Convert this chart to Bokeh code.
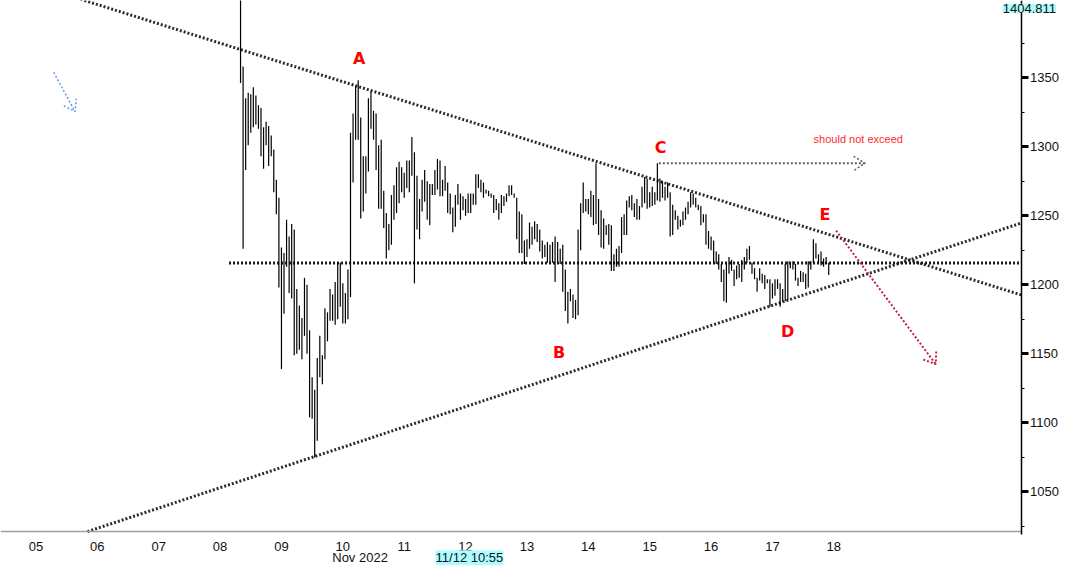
import numpy as np
from bokeh.plotting import figure
from bokeh.models import FixedTicker, LinearAxis, Range1d, Label
from bokeh.embed import file_html
from bokeh.resources import INLINE
from bokeh.core.properties import value

# ---- data (hourly bars, Nov 2022) ----
first_bar_day = 8 + 8 / 24.0   # Nov 08, 08:00

highs = [
    1410, 1358, 1335, 1339, 1338, 1343, 1337, 1330, 1328, 1314,
    1318, 1315, 1308, 1298, 1276, 1263, 1227, 1223, 1247, 1235,
    1244, 1240, 1197, 1185, 1176, 1205, 1200, 1167, 1133, 1124,
    1147, 1163, 1149, 1183, 1180, 1197, 1193, 1202, 1216, 1216,
    1201, 1194, 1211, 1310, 1324, 1344, 1348, 1321, 1293, 1293,
    1335, 1340, 1326, 1324, 1301, 1305, 1268, 1252, 1244, 1265,
    1272, 1285, 1289, 1285, 1281, 1290, 1290, 1307, 1296, 1279,
    1262, 1276, 1283, 1275, 1273, 1273, 1283, 1291, 1290, 1276,
    1286, 1274, 1266, 1256, 1265, 1273, 1266, 1264, 1262, 1266,
    1266, 1266, 1280, 1280, 1276, 1274, 1269, 1268, 1266, 1265,
    1262, 1259, 1265, 1264, 1266, 1272, 1272, 1266, 1263, 1253,
    1251, 1232, 1233, 1245, 1242, 1246, 1244, 1240, 1232, 1229,
    1231, 1229, 1231, 1235, 1231, 1226, 1229, 1211, 1195, 1197,
    1193, 1189, 1240, 1259, 1274, 1262, 1262, 1268, 1265, 1288,
    1262, 1254, 1248, 1243, 1244, 1243, 1222, 1226, 1228, 1249,
    1251, 1261, 1264, 1265, 1259, 1262, 1257, 1271, 1278, 1277,
    1267, 1271, 1267, 1288, 1277, 1275, 1271, 1274, 1267, 1258,
    1254, 1250, 1247, 1253, 1256, 1260, 1267, 1266, 1263, 1258,
    1257, 1251, 1251, 1239, 1235, 1232, 1224, 1222, 1215, 1211,
    1216, 1220, 1218, 1211, 1214, 1215, 1218, 1220, 1226, 1228,
    1216, 1212, 1205, 1212, 1208, 1207, 1204, 1204, 1201, 1204,
    1204, 1201, 1197, 1215, 1217, 1216, 1217, 1215, 1205, 1210,
    1209, 1208, 1217, 1217, 1233, 1230, 1222, 1224, 1219, 1220,
    1216,
]

lows = [
    1346, 1226, 1283, 1301, 1310, 1314, 1316, 1313, 1293, 1284,
    1301, 1286, 1293, 1267, 1251, 1198, 1139, 1179, 1213, 1194,
    1190, 1149, 1150, 1153, 1146, 1163, 1150, 1104, 1103, 1075,
    1087, 1133, 1128, 1146, 1159, 1174, 1174, 1171, 1175, 1184,
    1172, 1172, 1175, 1191, 1274, 1305, 1305, 1248, 1253, 1266,
    1282, 1313, 1305, 1283, 1255, 1255, 1241, 1219, 1225, 1229,
    1247, 1252, 1259, 1267, 1263, 1270, 1267, 1279, 1201, 1240,
    1233, 1253, 1260, 1247, 1243, 1265, 1265, 1269, 1264, 1264,
    1268, 1252, 1251, 1238, 1242, 1258, 1247, 1254, 1250, 1252,
    1252, 1258, 1258, 1270, 1267, 1263, 1266, 1264, 1263, 1252,
    1254, 1247, 1252, 1257, 1260, 1264, 1265, 1263, 1233, 1223,
    1223, 1215, 1220, 1226, 1229, 1233, 1231, 1224, 1219, 1220,
    1216, 1216, 1216, 1202, 1216, 1215, 1195, 1181, 1172, 1188,
    1176, 1175, 1178, 1225, 1252, 1253, 1251, 1249, 1243, 1244,
    1236, 1227, 1226, 1236, 1229, 1210, 1210, 1213, 1213, 1223,
    1236, 1236, 1256, 1254, 1249, 1247, 1247, 1256, 1259, 1255,
    1256, 1257, 1258, 1261, 1260, 1263, 1261, 1263, 1235, 1236,
    1247, 1240, 1242, 1243, 1247, 1251, 1256, 1258, 1256, 1254,
    1243, 1245, 1229, 1226, 1225, 1216, 1215, 1211, 1202, 1188,
    1187, 1208, 1210, 1199, 1204, 1205, 1202, 1211, 1216, 1218,
    1208, 1204, 1195, 1203, 1201, 1197, 1201, 1184, 1190, 1192,
    1197, 1184, 1188, 1188, 1189, 1212, 1211, 1203, 1199, 1202,
    1202, 1197, 1198, 1211, 1216, 1219, 1216, 1214, 1213, 1215,
    1207,
]

day_ticks = [5, 6, 7, 8, 9, 10, 11, 12, 13, 14, 15, 16, 17, 18]
day_labels = ["05", "06", "07", "08", "09", "10", "11", "12", "13", "14", "15", "16", "17", "18"]
price_ticks = [1050, 1100, 1150, 1200, 1250, 1300, 1350, 1400]
price_labels = ["1050", "1100", "1150", "1200", "1250", "1300", "1350", ""]  # 1400 sits under the price tag
price_minor = [1025, 1075, 1125, 1175, 1225, 1275, 1325, 1375]

# view / axes placement (day units, price units)
view_x = (4.4222, 21.6934)
view_y = (996.0, 1405.8)
axis_day = 21.0514      # where the price axis sits
axis_price = 1021.3     # where the time axis sits

# trend lines: two anchor points each
upper_anchor_x = [7.953, 20.152]
upper_anchor_y = [1375.6, 1205.2]
lower_anchor_x = [9.048, 20.152]
lower_anchor_y = [1068.4, 1231.4]
support_start = 8.146
support_level = 1215.7

c_arrow_x = [15.149, 18.51]
c_arrow_y = [1288.0, 1288.0]
c_head_x = [18.323, 18.51, 18.323]
c_head_y = [1292.9, 1288.0, 1282.6]
e_arrow_x = [18.038, 19.66]
e_arrow_y = [1239.2, 1142.5]
e_head_x = [19.457, 19.66, 19.67]
e_head_y = [1145.8, 1142.5, 1152.8]
blue_arrow_x = [5.289, 5.637]
blue_arrow_y = [1353.7, 1325.4]
blue_head_x = [5.454, 5.637, 5.658]
blue_head_y = [1329.6, 1325.4, 1334.7]

wave_labels = ["A", "B", "C", "D", "E"]
wave_x = [10.265, 13.523, 15.177, 17.247, 17.857]
wave_y = [1363.6, 1150.9, 1299.5, 1165.8, 1250.9]

note_text = "should not exceed"
note_x = 18.398
note_y = 1305.6

last_price_text = "1404.811"
last_price_x = 21.62
last_price_y = 1403.4
month_text = "Nov 2022"
month_x = 10.281
cursor_text = "11/12 10:55"
cursor_x = 12.063
second_row_y = 1002.3


def trend_segment(ax, ay, x_lo, x_hi, y_lo):
    """Extend a trend line through its two anchors, cut at the plot-area edges."""
    slope = (ay[1] - ay[0]) / (ax[1] - ax[0])
    xs = [x_lo, x_hi]
    ys = [ay[0] + slope * (x - ax[0]) for x in xs]
    if ys[0] < y_lo:
        xs[0] = ax[0] + (y_lo - ay[0]) / slope
        ys[0] = y_lo
    return xs, ys


# ---- figure ----
bar_x = first_bar_day + np.arange(len(highs)) / 24.0

p = figure(width=1060, height=566, output_backend="svg", toolbar_location=None,
           x_range=Range1d(*view_x), y_range=Range1d(*view_y),
           x_axis_location=None, y_axis_location=None, min_border=0)
p.xgrid.visible = False
p.ygrid.visible = False
p.outline_line_color = None
p.background_fill_color = "white"
p.border_fill_color = "white"

xaxis = LinearAxis(ticker=FixedTicker(ticks=day_ticks, minor_ticks=[]),
                   fixed_location=axis_price, bounds=(view_x[0], axis_day))
xaxis.major_label_overrides = {d: lab for d, lab in zip(day_ticks, day_labels)}
xaxis.axis_line_color = "#a0a0a0"
xaxis.axis_line_width = 1.5
xaxis.major_tick_line_color = None
xaxis.minor_tick_line_color = None
xaxis.major_label_text_font = "Liberation Sans"
xaxis.major_label_text_font_size = "13px"
xaxis.major_label_text_color = "#111111"
xaxis.major_label_standoff = 4
p.add_layout(xaxis, "below")

yaxis = LinearAxis(ticker=FixedTicker(ticks=price_ticks, minor_ticks=price_minor),
                   fixed_location=axis_day, bounds=(1019.0, view_y[1]))
yaxis.major_label_overrides = {t: lab for t, lab in zip(price_ticks, price_labels)}
yaxis.axis_line_color = "black"
yaxis.axis_line_width = 1.5
yaxis.major_tick_in = 0
yaxis.major_tick_out = 7
yaxis.major_tick_line_width = 3
yaxis.major_tick_line_color = "black"
yaxis.minor_tick_in = 0
yaxis.minor_tick_out = 3
yaxis.minor_tick_line_color = "black"
yaxis.major_label_text_font = "Liberation Sans"
yaxis.major_label_text_font_size = "13px"
yaxis.major_label_text_color = "#111111"
yaxis.major_label_standoff = 2
p.add_layout(yaxis, "right")

# trend lines
dot_col = "#2b2b2b"
ux, uy = trend_segment(upper_anchor_x, upper_anchor_y, view_x[0], axis_day, axis_price)
lx, ly = trend_segment(lower_anchor_x, lower_anchor_y, view_x[0], axis_day, axis_price)
p.line(ux, uy, line_color=dot_col, line_width=3, line_dash="2 2")
p.line(lx, ly, line_color=dot_col, line_width=3, line_dash="2 2")
p.line([support_start, axis_day], [support_level, support_level],
       line_color="#1a1a1a", line_width=3, line_dash="2 2")

# price bars
p.segment(x0=bar_x, y0=lows, x1=bar_x, y1=highs, line_color="black", line_width=1.2)

# arrows
p.line(c_arrow_x, c_arrow_y, line_color="#606060", line_width=2, line_dash="2 2")
p.line(c_head_x, c_head_y, line_color="#606060", line_width=1.5, line_dash="2 2")
p.line(e_arrow_x, e_arrow_y, line_color="#c51f45", line_width=2, line_dash="2 2")
p.line(e_head_x, e_head_y, line_color="#c51f45", line_width=2, line_dash="2 2")
p.line(blue_arrow_x, blue_arrow_y, line_color="#6495ed", line_width=1.5, line_dash="2 2")
p.line(blue_head_x, blue_head_y, line_color="#6495ed", line_width=1.5, line_dash="2 2")

# wave labels
p.text(x=wave_x, y=wave_y, text=wave_labels, text_color="#ff0000",
       text_font=value("DejaVu Sans"), text_font_style="bold", text_font_size="16px",
       text_align="center", text_baseline="middle")
p.text(x=[note_x], y=[note_y], text=[note_text], text_color="#ff2a2a",
       text_font=value("Liberation Sans"), text_font_size="11px",
       text_align="center", text_baseline="middle")

# second row under the time axis and the last-price tag
p.add_layout(Label(x=month_x, y=second_row_y, text=month_text,
                   text_font="Liberation Sans", text_font_size="13px", text_color="#111111",
                   text_align="center", text_baseline="middle"))
p.add_layout(Label(x=cursor_x, y=second_row_y, text=cursor_text,
                   text_font="Liberation Sans", text_font_size="13px", text_color="#111133",
                   text_align="center", text_baseline="middle",
                   background_fill_color="#aefcfc"))
p.add_layout(Label(x=last_price_x, y=last_price_y, text=last_price_text, level="overlay",
                   text_font="Liberation Sans", text_font_size="13px", text_color="#111111",
                   text_align="right", text_baseline="top",
                   background_fill_color="#aefcfc"))

open("out.html", "w").write(file_html(p, INLINE))
